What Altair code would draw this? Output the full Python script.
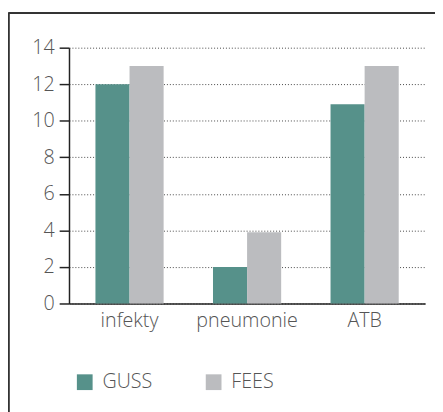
import altair as alt
import pandas as pd

categories = ["infekty", "pneumonie", "ATB"]
series = ["GUSS", "FEES"]
guss = [12, 2, 10.9]
fees = [13, 3.9, 13]
y_ticks = [0, 2, 4, 6, 8, 10, 12, 14]
colors = ["#56918A", "#BBBCBF"]

rows = []
for i, c in enumerate(categories):
    rows.append({"kat": c, "skupina": "GUSS", "hodnota": guss[i]})
    rows.append({"kat": c, "skupina": "FEES", "hodnota": fees[i]})
df = pd.DataFrame(rows)

FONT = "Open Sans"
LABEL_COLOR = "#555555"
FS = 20
FW = 300

bars = alt.Chart(df).mark_bar().encode(
    x=alt.X("kat:N", sort=categories, title=None,
            scale=alt.Scale(paddingInner=0.42, paddingOuter=0.225),
            axis=alt.Axis(labelAngle=0, ticks=False, domainColor="#222222", domainWidth=1.5,
                          labelFont=FONT, labelFontSize=FS, labelFontWeight=FW,
                          labelColor=LABEL_COLOR, labelPadding=7, grid=False)),
    xOffset=alt.XOffset("skupina:N", sort=series),
    y=alt.Y("hodnota:Q", title=None,
            scale=alt.Scale(domain=[0, 14], nice=False),
            axis=alt.Axis(values=y_ticks, domainColor="#222222", domainWidth=1.5,
                          tickColor="#222222", tickWidth=1.5, tickSize=10,
                          labelFont=FONT, labelFontSize=FS, labelFontWeight=FW,
                          labelColor=LABEL_COLOR,
                          labelPadding=5, grid=True, gridColor="#444444",
                          gridDash=[1, 2], gridWidth=1)),
    color=alt.Color("skupina:N", sort=series,
                    scale=alt.Scale(domain=series, range=colors),
                    legend=alt.Legend(title=None, orient="none", legendX=6, legendY=330,
                                      direction="horizontal", columns=2,
                                      symbolType="square", symbolSize=256,
                                      symbolStrokeWidth=0, symbolOpacity=1,
                                      labelFont=FONT, labelFontSize=FS, labelFontWeight=FW,
                                      labelColor=LABEL_COLOR, labelOffset=8,
                                      columnPadding=52)),
)

frame_left = alt.Chart(df).mark_rule(color="#333333", strokeWidth=1.5).encode(
    x=alt.value(-61.5), y=alt.value(-35), y2=alt.value(420)
)
frame_top = alt.Chart(df).mark_rule(color="#333333", strokeWidth=1.5).encode(
    y=alt.value(-35), x=alt.value(-61.5), x2=alt.value(420)
)

chart = alt.layer(bars, frame_left, frame_top).properties(
    width=362, height=260,
    autosize=alt.AutoSizeParams(type="none"),
    padding={"left": 62, "top": 37, "right": 10, "bottom": 110},
).configure_view(stroke=None)

chart.save("out.html", embed_options={"renderer": "svg", "actions": False})
